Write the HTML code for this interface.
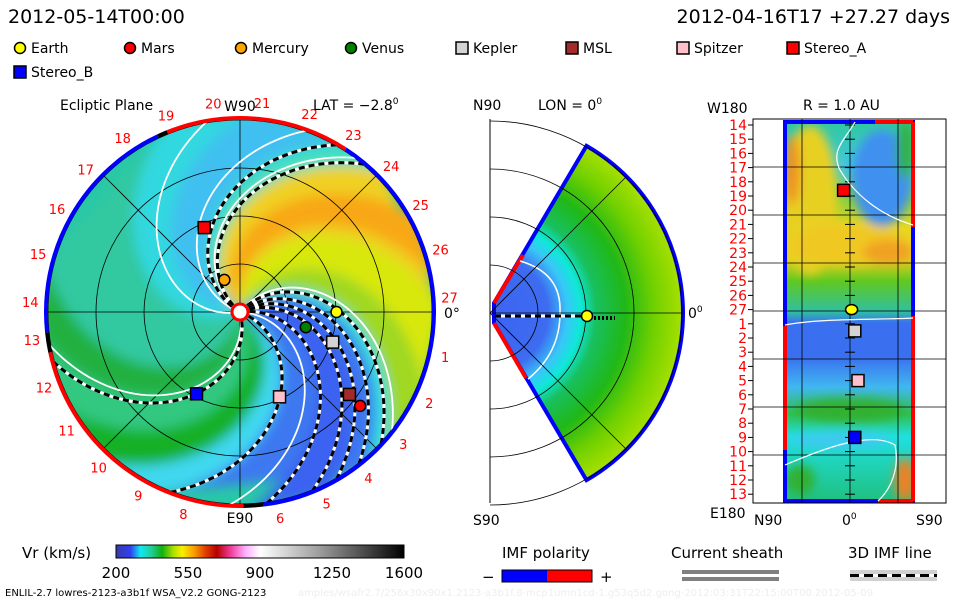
<!DOCTYPE html>
<html><head><meta charset="utf-8">
<style>
html,body{margin:0;padding:0;background:#fff;}
svg{display:block;font-family:"DejaVu Sans","Liberation Sans",sans-serif;}
</style></head>
<body>
<svg id="chart" width="960" height="600" viewBox="0 0 960 600" xmlns="http://www.w3.org/2000/svg">
<defs>
<clipPath id="discClip"><circle cx="240" cy="312" r="193"/></clipPath>
<clipPath id="rpClip"><rect x="785" y="122" width="128" height="379"/></clipPath>
<filter id="blur3"><feGaussianBlur stdDeviation="5"/></filter>
<filter id="blur6"><feGaussianBlur stdDeviation="6"/></filter>
<radialGradient id="wedgeGrad" gradientUnits="userSpaceOnUse" cx="490" cy="313" r="193">
<stop offset="0" stop-color="#3d63f2"/><stop offset="0.3" stop-color="#3d6cf0"/>
<stop offset="0.4" stop-color="#39c6f8"/><stop offset="0.47" stop-color="#10e8d8"/>
<stop offset="0.55" stop-color="#18c060"/><stop offset="0.7" stop-color="#20b818"/>
<stop offset="0.85" stop-color="#70d000"/><stop offset="1" stop-color="#a8e000"/>
</radialGradient>
<linearGradient id="cbGrad" x1="0" x2="1" y1="0" y2="0">
<stop offset="0" stop-color="#3a3aa8"/><stop offset="0.05" stop-color="#3040f0"/>
<stop offset="0.085" stop-color="#10e8f0"/><stop offset="0.12" stop-color="#20d0a0"/>
<stop offset="0.16" stop-color="#10b010"/><stop offset="0.2" stop-color="#b0e000"/>
<stop offset="0.23" stop-color="#f8f000"/><stop offset="0.27" stop-color="#f8a000"/>
<stop offset="0.31" stop-color="#e04000"/><stop offset="0.35" stop-color="#b80000"/>
<stop offset="0.4" stop-color="#f040a0"/><stop offset="0.45" stop-color="#ffb0ff"/>
<stop offset="0.5" stop-color="#ffffff"/><stop offset="0.7" stop-color="#a0a0a0"/>
<stop offset="1" stop-color="#000000"/>
</linearGradient>
<linearGradient id="rpGrad" x1="0" x2="0" y1="0" y2="1">
<stop offset="0" stop-color="#30c8a0"/><stop offset="0.12" stop-color="#40c8e0"/>
<stop offset="0.2" stop-color="#80d040"/><stop offset="0.28" stop-color="#e8d820"/>
<stop offset="0.36" stop-color="#e8d020"/><stop offset="0.42" stop-color="#60c820"/>
<stop offset="0.5" stop-color="#30c0a0"/><stop offset="0.53" stop-color="#3a70f0"/>
<stop offset="0.62" stop-color="#3a70f0"/><stop offset="0.7" stop-color="#40b8f0"/>
<stop offset="0.77" stop-color="#30c050"/><stop offset="0.83" stop-color="#20e0e0"/>
<stop offset="1" stop-color="#20c080"/>
</linearGradient>
</defs>

<text x="8" y="23" font-size="19" fill="#000">2012-05-14T00:00</text>
<text x="950" y="23" font-size="19" fill="#000" text-anchor="end">2012-04-16T17 +27.27 days</text>

<g id="legend" font-size="14"></g>

<g id="leftPanel"></g>
<text x="60" y="110" font-size="14">Ecliptic Plane</text>
<text x="313" y="110" font-size="14">LAT = −2.8<tspan dy="-6" font-size="9">0</tspan></text>

<g id="midPanel"></g>
<text x="473" y="110" font-size="14">N90</text>
<text x="538" y="110" font-size="14">LON = 0<tspan dy="-6" font-size="9">0</tspan></text>
<text x="473" y="525" font-size="14">S90</text>
<text x="688" y="318" font-size="14">0<tspan dy="-6" font-size="9">0</tspan></text>

<g id="rightPanel"></g>
<text x="803" y="110" font-size="14">R = 1.0 AU</text>
<text x="707" y="113" font-size="14">W180</text>
<text x="710" y="518" font-size="14">E180</text>
<text x="754" y="525" font-size="14">N90</text>
<text x="842" y="525" font-size="14">0<tspan dy="-6" font-size="9">0</tspan></text>
<text x="916" y="525" font-size="14">S90</text>

<g>
<text x="22" y="558" font-size="15">Vr (km/s)</text>
<rect x="116" y="545" width="288" height="13" fill="url(#cbGrad)" stroke="#000" stroke-width="1"/>
<g id="cbTicks" font-size="15" text-anchor="middle"></g>
</g>
<text x="5" y="596" font-size="10">ENLIL-2.7 lowres-2123-a3b1f WSA_V2.2 GONG-2123</text>
<text x="298" y="596" font-size="10" fill="#eee">amples/wsafr2.7/256x30x90x1.2123-a3b1f.8-mcp1umn1cd-1.g53q5d2.gong-2012:03:31T22:15:00T00   2012-05-09</text>

<g>
<text x="502" y="558" font-size="15">IMF polarity</text>
<text x="482" y="582" font-size="15">−</text>
<rect x="502" y="570" width="45" height="12" fill="#0000ff"/>
<rect x="547" y="570" width="45" height="12" fill="#ff0000"/>
<rect x="502" y="570" width="90" height="12" fill="none" stroke="#000"/>
<text x="600" y="582" font-size="15">+</text>
</g>
<g>
<text x="671" y="558" font-size="15">Current sheath</text>
<rect x="682" y="570" width="97" height="4" fill="#808080"/>
<rect x="682" y="577" width="97" height="4" fill="#808080"/>
</g>
<g>
<text x="848" y="558" font-size="15">3D IMF line</text>
<rect x="850" y="570" width="87" height="11" fill="#d0d0d0"/>
<line x1="850" y1="575.5" x2="937" y2="575.5" stroke="#fff" stroke-width="3"/>
<line x1="850" y1="575.5" x2="937" y2="575.5" stroke="#000" stroke-width="3" stroke-dasharray="9,5"/>
</g>
</svg>
<script>
const NS='http://www.w3.org/2000/svg';
function mk(tag,attrs,parent){const e=document.createElementNS(NS,tag);for(const k in attrs)e.setAttribute(k,attrs[k]);parent.appendChild(e);return e;}

// ---------- data ----------
const bodyNames=['Earth','Mars','Mercury','Venus','Kepler','MSL','Spitzer','Stereo_A','Stereo_B'];
const bodyColors=['#ffff00','#ff0000','#ffa500','#008000','#d3d3d3','#a52a2a','#ffc0cb','#ff0000','#0000ff'];
const bodyShapes=['c','c','c','c','s','s','s','s','s'];
const bodyR=[1.0,1.58,0.37,0.70,1.01,1.42,0.97,0.95,0.96];
const bodyLon=[0,-38,116,-13,-18,-37,-65,113,-118];
const sectorLabels=[1,2,3,4,5,6,7,8,9,10,11,12,13,14,15,16,17,18,19,20,21,22,23,24,25,26,27];
const spiralPhi0=[150,140,47,38,30,22,8,-21,-75];
const hcsPhi0=[190,160,143,52,22,-3,-80];
const cbValues=[200,550,900,1250,1600];
const rpBodies=['Stereo_A','Earth','Kepler','Spitzer','Stereo_B'];
const rpSector=[18.6,27.0,1.5,5.0,9.0];
const rpLat=[-4,1,3,5,3];

// ---------- legend ----------
const lg=document.getElementById('legend');
const lgX=[20,130,241,351,462,572,683,793,20];
const lgY=[48,48,48,48,48,48,48,48,72];
bodyNames.forEach((n,i)=>{
  const g=mk('g',{},lg);
  
  
  if(bodyShapes[i]==='c') mk('circle',{cx:lgX[i],cy:lgY[i],r:5.5,fill:bodyColors[i],stroke:'#000','stroke-width':1.5},g);
  else mk('rect',{x:lgX[i]-6,y:lgY[i]-6,width:12,height:12,fill:bodyColors[i],stroke:'#000','stroke-width':1.5},g);
  const t=mk('text',{x:lgX[i]+11,y:lgY[i]+5},g);t.textContent=n;
});

// ---------- left panel ----------
const CX=240,CY=312,RPX=193,AU=96.5;
const kSp=45;
function pt(r,deg){const a=deg*Math.PI/180;return [CX+r*AU*Math.cos(a),CY-r*AU*Math.sin(a)];}
function spiralPts(phi0,r0,r1){const p=[];for(let r=r0;r<=r1+1e-6;r+=0.04)p.push(pt(r,phi0-kSp*r));return p;}
function regionPath(pa,pb){const a=spiralPts(pa,0.05,2.1),b=spiralPts(pb,0.05,2.1).reverse();return 'M'+a.concat(b).map(p=>p[0].toFixed(1)+','+p[1].toFixed(1)).join('L')+'Z';}
const L=document.getElementById('leftPanel');
const disc=mk('g',{'clip-path':'url(#discClip)'},L);


mk('circle',{cx:CX,cy:CY,r:RPX,fill:'#28c8a8'},disc);
const blurG=mk('g',{filter:'url(#blur6)'},disc);
const regions=[[260,205,'#30c8a0'],[205,180,'#30d8e0'],[180,150,'#40c0f0'],[150,138,'#40e0c0'],[138,95,'#f0d020'],[122,102,'#f8a818'],[95,70,'#d8e810'],[70,50,'#a0d820'],[50,42,'#30e0e0'],[42,-22,'#3c78f0'],[30,5,'#3a62f0'],[-22,-38,'#40d8f0'],[-38,-58,'#18b028'],[-58,-80,'#30c880'],[-80,-100,'#20b040']];
regions.forEach(r=>mk('path',{d:regionPath(r[0],r[1]),fill:r[2]},blurG));
[48,96,144,192].forEach(r=>mk('circle',{cx:CX,cy:CY,r:r,fill:'none',stroke:'#000','stroke-width':0.8},L));
[0,45,90,135].forEach(d=>{const a=pt(2,d),b=pt(2,d+180);mk('line',{x1:a[0],y1:a[1],x2:b[0],y2:b[1],stroke:'#000','stroke-width':0.8},L);});
hcsPhi0.forEach(p=>{const s=spiralPts(p,0.1,2.05);const e=mk('polyline',{points:s.map(q=>q.join(',')).join(' '),fill:'none',stroke:'#fff','stroke-width':1.8,'clip-path':'url(#discClip)'},L);

});
spiralPhi0.forEach(p=>{const s=spiralPts(p,0.1,2.05).map(q=>q.join(',')).join(' ');
mk('polyline',{points:s,fill:'none',stroke:'#fff','stroke-width':3,'clip-path':'url(#discClip)'},L);
const e=mk('polyline',{points:s,fill:'none',stroke:'#000','stroke-width':3,'stroke-dasharray':'6,4','clip-path':'url(#discClip)'},L);

});
function arc(r,a0,a1){const p0=[CX+r*Math.cos(a0*Math.PI/180),CY-r*Math.sin(a0*Math.PI/180)],p1=[CX+r*Math.cos(a1*Math.PI/180),CY-r*Math.sin(a1*Math.PI/180)];const large=Math.abs(a1-a0)>180?1:0;return `M${p0[0]},${p0[1]}A${r},${r} 0 ${large} ${a1<a0?1:0} ${p1[0]},${p1[1]}`;}
const ringSegs=[[112,57,'#ff0000'],[57,-83,'#0000ff'],[-83,-89,'#000'],[-89,-168,'#ff0000'],[-168,-174,'#000'],[-174,-245,'#0000ff'],[-245,-248,'#000']];
ringSegs.forEach(s=>{const e=mk('path',{d:arc(194,s[0],s[1]),fill:'none',stroke:s[2],'stroke-width':4},L);

});
sectorLabels.forEach(n=>{if(n===7)return;const ang=n>=14?4+(27-n)*13.33:1-n*13.33;const a=ang*Math.PI/180;
const t=mk('text',{x:CX+210*Math.cos(a),y:CY-210*Math.sin(a)+5,'font-size':13,fill:'#ff0000','text-anchor':'middle'},L);t.textContent=n;

});
const w90=mk('text',{x:CX,y:111,'font-size':14,'text-anchor':'middle'},L);w90.textContent='W90';
const e90=mk('text',{x:CX,y:523,'font-size':14,'text-anchor':'middle'},L);e90.textContent='E90';
const z0=mk('text',{x:444,y:318,'font-size':14},L);z0.textContent='0°';
mk('circle',{cx:CX,cy:CY,r:8,fill:'#fff',stroke:'#ff0000','stroke-width':3},L);
bodyNames.forEach((n,i)=>{const p=pt(bodyR[i],bodyLon[i]);let e;
if(bodyShapes[i]==='c') e=mk('circle',{cx:p[0],cy:p[1],r:5.5,fill:bodyColors[i],stroke:'#000','stroke-width':1.5},L);
else e=mk('rect',{x:p[0]-6,y:p[1]-6,width:12,height:12,fill:bodyColors[i],stroke:'#000','stroke-width':1.5},L);

});

// ---------- middle panel ----------
const M=document.getElementById('midPanel');
const MX=490,MY=313,MR=193;
function mpt(r,deg){const a=deg*Math.PI/180;return [MX+r*Math.cos(a),MY-r*Math.sin(a)];}
const w1=mpt(MR,60),w2=mpt(MR,-60);
const wd=`M${MX+4},${MY-10}L${w1[0]},${w1[1]}A${MR},${MR} 0 0 1 ${w2[0]},${w2[1]}L${MX+4},${MY+10}Z`;
const wedge=mk('path',{d:wd,fill:'url(#wedgeGrad)'},M);


mk('path',{d:wd,fill:'none',stroke:'#0000ff','stroke-width':4},M);
mk('line',{x1:MX+4,y1:MY-10,x2:MX+33,y2:MY-58,stroke:'#ff0000','stroke-width':4},M);
mk('line',{x1:MX+4,y1:MY+10,x2:MX+36,y2:MY+65,stroke:'#ff0000','stroke-width':4},M);
mk('path',{d:`M${MX+30},${MY-52}Q${MX+72},${MY-40} ${MX+70},${MY}Q${MX+70},${MY+40} ${MX+38},${MY+66}`,fill:'none',stroke:'#fff','stroke-width':1.5},M);
mk('line',{x1:MX,y1:119,x2:MX,y2:503,stroke:'#000','stroke-width':1},M);
[48,96,144,192].forEach(r=>mk('path',{d:`M${MX},${MY-r}A${r},${r} 0 0 1 ${MX},${MY+r}`,fill:'none',stroke:'#000','stroke-width':0.8},M));
[45,0,-45].forEach(d=>{const p=mpt(MR,d);mk('line',{x1:MX,y1:MY,x2:p[0],y2:p[1],stroke:'#000','stroke-width':0.8},M);});
mk('line',{x1:MX+5,y1:MY+3,x2:588,y2:MY+3,stroke:'#fff','stroke-width':3},M);
mk('line',{x1:MX+5,y1:MY+3,x2:588,y2:MY+3,stroke:'#000','stroke-width':3,'stroke-dasharray':'6,4'},M);
mk('line',{x1:590,y1:MY+5,x2:615,y2:MY+5,stroke:'#000','stroke-width':4,'stroke-dasharray':'2,2'},M);
const me=mk('circle',{cx:587,cy:MY+3,r:5.5,fill:'#ffff00',stroke:'#000','stroke-width':1.5},M);



// ---------- right panel ----------
const R=document.getElementById('rightPanel');
const RX0=785,RX1=913,RY0=122,RY1=501;
function sy(s){const idx=s>=14?s-14:s+13;return 125+idx*14.2;}
function lx(lat){return 850-lat*(48/30);}
mk('rect',{x:RX0,y:RY0,width:RX1-RX0,height:RY1-RY0,fill:'url(#rpGrad)'},R);
const rb=mk('g',{filter:'url(#blur3)','clip-path':'url(#rpClip)'},R);
const blobs=[[810,200,28,75,'#e8d020'],[792,170,8,35,'#f09020'],[882,178,30,48,'#4090f0'],[905,150,8,30,'#30b030'],[850,245,60,20,'#f0c820'],[888,252,25,12,'#f0a020'],[850,410,55,12,'#30b030'],[800,480,15,15,'#30b030'],[905,480,10,22,'#f08020'],[840,440,50,8,'#40c8f0']];
blobs.forEach(b=>mk('ellipse',{cx:b[0],cy:b[1],rx:b[2],ry:b[3],fill:b[4]},rb));
mk('rect',{x:RX0,y:RY0,width:RX1-RX0,height:RY1-RY0,fill:'none',stroke:'#0000ff','stroke-width':4},R);
mk('line',{x1:RX0,y1:326,x2:RX0,y2:450,stroke:'#ff0000','stroke-width':4},R);
mk('line',{x1:RX1,y1:RY0,x2:RX1,y2:227,stroke:'#ff0000','stroke-width':4},R);
mk('line',{x1:RX1,y1:316,x2:RX1,y2:RY1,stroke:'#ff0000','stroke-width':4},R);
mk('line',{x1:875,y1:RY0,x2:RX1,y2:RY0,stroke:'#ff0000','stroke-width':4},R);
mk('line',{x1:878,y1:RY1,x2:RX1,y2:RY1,stroke:'#ff0000','stroke-width':4},R);
mk('rect',{x:753,y:119,width:193,height:384,fill:'none',stroke:'#000','stroke-width':1},R);
[167,215,263,311,359,407,455].forEach(y=>mk('line',{x1:753,y1:y,x2:946,y2:y,stroke:'#000','stroke-width':0.8},R));
[802,850,898].forEach(x=>mk('line',{x1:x,y1:119,x2:x,y2:503,stroke:'#000','stroke-width':0.8},R));
sectorLabels.forEach(n=>{const y=sy(n);mk('line',{x1:845,y1:y,x2:855,y2:y,stroke:'#000','stroke-width':1},R);
mk('line',{x1:748,y1:y,x2:753,y2:y,stroke:'#000','stroke-width':1},R);
const t=mk('text',{x:747,y:y+5,'font-size':14,fill:'#ff0000','text-anchor':'end'},R);t.textContent=n;

});
mk('path',{d:'M855,122C845,140 830,150 840,170C855,195 880,215 913,225',fill:'none',stroke:'#fff','stroke-width':1.2},R);
mk('path',{d:'M785,325C820,318 880,320 913,318',fill:'none',stroke:'#fff','stroke-width':1.2},R);
mk('path',{d:'M785,465C820,450 870,430 895,445C900,470 890,490 878,501',fill:'none',stroke:'#fff','stroke-width':1.2},R);
rpBodies.forEach((n,i)=>{const k=bodyNames.indexOf(n);const x=lx(-rpLat[i]);const yy=sy(rpSector[i]);let e;
if(bodyShapes[k]==='c') e=mk('ellipse',{cx:x,cy:yy,rx:6,ry:5,fill:bodyColors[k],stroke:'#000','stroke-width':1.5},R);
else e=mk('rect',{x:x-6,y:yy-6,width:12,height:12,fill:bodyColors[k],stroke:'#000','stroke-width':1.5},R);

});

// ---------- colorbar ticks ----------
const cbt=document.getElementById('cbTicks');
cbValues.forEach(v=>{const x=116+(v-200)/1400*288;const t=mk('text',{x:x,y:578},cbt);t.textContent=v;

});
</script>
</body></html>
